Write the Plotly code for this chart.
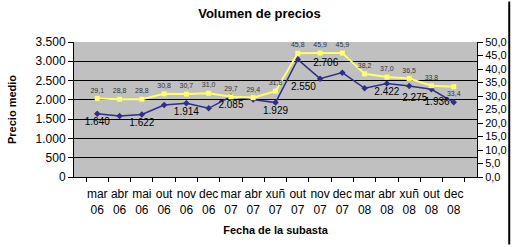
import plotly.graph_objects as go

categories = ["mar<br>06", "abr<br>06", "mai<br>06", "out<br>06", "nov<br>06", "dec<br>06",
              "mar<br>07", "abr<br>07", "xuñ<br>07", "out<br>07", "nov<br>07", "dec<br>07",
              "mar<br>08", "abr<br>08", "xuñ<br>08", "out<br>08", "dec<br>08"]
precio_medio = [1640, 1580, 1622, 1867, 1914, 1781, 2085, 2012, 1929, 3050, 2550, 2706,
                2300, 2422, 2360, 2275, 1936]
precio_labels = ["1.640", "", "1.622", "", "1.914", "", "2.085", "", "1.929", "", "2.550",
                 "2.706", "", "2.422", "", "2.275", "1.936"]
volumen = [29.1, 28.8, 28.8, 30.8, 30.7, 31.0, 29.7, 29.4, 31.8, 45.8, 45.9, 45.9,
           38.2, 37.0, 36.5, 33.8, 33.4]
left_ticks = [0, 500, 1000, 1500, 2000, 2500, 3000, 3500]
left_tick_text = ["0", "500", "1.000", "1.500", "2.000", "2.500", "3.000", "3.500"]
right_ticks = [0, 5, 10, 15, 20, 25, 30, 35, 40, 45, 50]
right_tick_text = ["0,0", "5,0", "10,0", "15,0", "20,0", "25,0", "30,0", "35,0", "40,0", "45,0", "50,0"]

blue_pos = ["bottom center"] * len(categories)
blue_pos[10] = "bottom left"
blue_pos[11] = "top left"
blue_pos[15] = "bottom left"
blue_pos[16] = "middle left"

yellow_pos = ["top center"] * len(categories)
yellow_pos[16] = "bottom center"

fig = go.Figure()
fig.add_trace(go.Scatter(
    x=categories, y=volumen, yaxis="y2", mode="lines+markers+text",
    line=dict(color="#FFFF66", width=2),
    marker=dict(symbol="square", size=5, color="#FFFF66"),
    text=[f"{v:.1f}".replace(".", ",") for v in volumen],
    textposition=yellow_pos,
    textfont=dict(size=7, color="#333333", family="Liberation Sans"),
    cliponaxis=False, hoverinfo="skip"))
fig.add_trace(go.Scatter(
    x=categories, y=precio_medio, mode="lines+markers+text",
    line=dict(color="#2E2E8C", width=1.5),
    marker=dict(symbol="diamond", size=5, color="#2E2E8C"),
    text=precio_labels, textposition=blue_pos,
    textfont=dict(size=10, color="#000000", family="Liberation Sans"),
    cliponaxis=False, hoverinfo="skip"))

fig.update_layout(
    width=519, height=247,
    margin=dict(l=74, r=39, t=42, b=70),
    paper_bgcolor="white", plot_bgcolor="#C0C0C0",
    showlegend=False,
    font=dict(family="Liberation Sans", size=12, color="black"),
    title=dict(text="<b>Volumen de precios</b>", x=0.5, xanchor="center", y=0.945,
               yanchor="middle", font=dict(size=13, color="black")),
    xaxis=dict(type="category", tickson="boundaries", ticks="outside", ticklen=4,
               tickcolor="black", showline=True, linecolor="black", linewidth=1,
               showgrid=False, tickfont=dict(size=12), tickangle=0,
               ticklabelstandoff=6,
               title=dict(text="<b>Fecha de la subasta</b>", font=dict(size=11), standoff=10)),
    yaxis=dict(range=[0, 3500], tickvals=left_ticks, ticktext=left_tick_text,
               ticks="outside", ticklen=5, tickcolor="black", showline=True,
               linecolor="black", linewidth=1, showgrid=True, gridcolor="black",
               gridwidth=1, zeroline=False, tickfont=dict(size=12),
               title=dict(text="<b>Precio medio</b>", font=dict(size=11), standoff=16)),
    yaxis2=dict(range=[0, 50], tickvals=right_ticks, ticktext=right_tick_text,
                overlaying="y", side="right", ticks="outside", ticklen=5,
                tickcolor="black", showline=True, linecolor="black", linewidth=1,
                showgrid=False, zeroline=False, tickfont=dict(size=11)),
    shapes=[dict(type="line", xref="paper", yref="paper", x0=1.08, x1=1.08,
                 y0=-0.5, y1=1.3, layer="above", line=dict(color="black", width=2))],
)

fig.write_html("out.html")
